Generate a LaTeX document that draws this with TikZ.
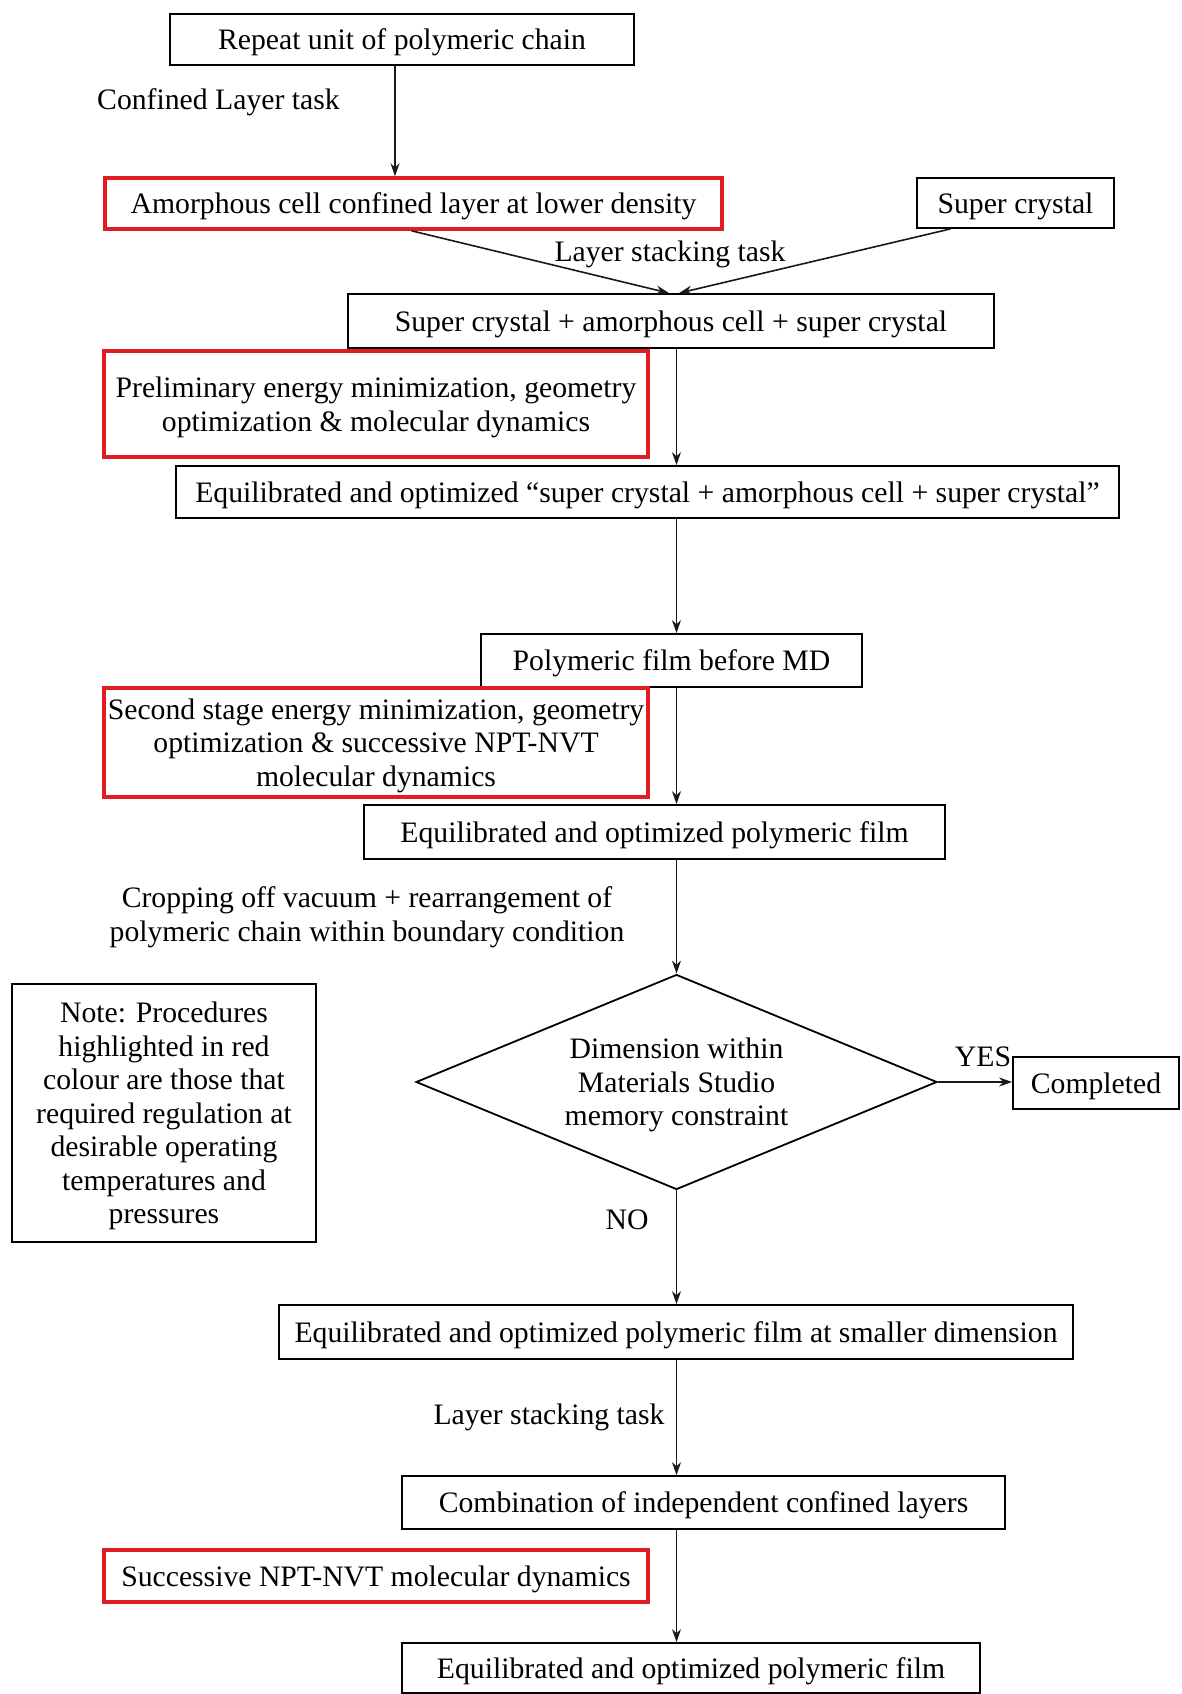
\documentclass[tikz,border=0pt]{standalone}
\usepackage{fontspec}
\setmainfont{Liberation Serif}
\usetikzlibrary{shapes.geometric,arrows.meta}
\definecolor{boxred}{RGB}{226,28,36}
\tikzset{
  every node/.style={font=\fontsize{29.7}{33.5}\selectfont, inner sep=0pt, text depth=0pt},
  bbox/.style={draw=black, line width=1.8pt, align=center},
  rbox/.style={draw=boxred, line width=3.6pt, align=center},
  lbl/.style={align=center},
  arr/.style={draw=black!90, line width=1.6pt, -{Stealth[length=13pt,width=9pt]}},
}
\begin{document}
\begin{tikzpicture}[x=1pt,y=-1pt]
\useasboundingbox (0,0) rectangle (1181,1694);
% boxes
\node[bbox, minimum width=464pt, minimum height=51pt] (rep) at (402,39.5) {Repeat unit of polymeric chain};
\node[rbox, minimum width=617pt, minimum height=51pt] (amor) at (413.5,203.5) {Amorphous cell confined layer at lower density};
\node[bbox, minimum width=197pt, minimum height=50pt] (sc) at (1015.5,203) {Super crystal};
\node[bbox, minimum width=646pt, minimum height=54pt] (scasc) at (671,321) {Super crystal + amorphous cell + super crystal};
\node[rbox, minimum width=544pt, minimum height=106pt] (prelim) at (376,404) {Preliminary energy minimization, geometry\\optimization \& molecular dynamics};
\node[bbox, minimum width=943pt, minimum height=52pt] (eqsc) at (647.5,492) {Equilibrated and optimized “super crystal + amorphous cell + super crystal”};
\node[bbox, minimum width=381pt, minimum height=53pt] (pfb) at (671.5,660.5) {Polymeric film before MD};
\node[rbox, minimum width=544pt, minimum height=109pt] (second) at (376,742.5) {Second stage energy minimization, geometry\\optimization \& successive NPT-NVT\\molecular dynamics};
\node[bbox, minimum width=581pt, minimum height=54pt] (eqpf) at (654.5,832) {Equilibrated and optimized polymeric film};
\node[diamond, draw=black, line width=1.8pt, align=center, minimum width=521pt, minimum height=215pt, shape aspect=2.42] (dec) at (676.5,1082) {Dimension within\\Materials Studio\\memory constraint};
\node[bbox, minimum width=166pt, minimum height=52pt] (compl) at (1096,1083) {Completed};
\node[bbox, minimum width=304pt, minimum height=258pt] (note) at (164,1113) {Note: Procedures\\highlighted in red\\colour are those that\\required regulation at\\desirable operating\\temperatures and\\pressures};
\node[bbox, minimum width=794pt, minimum height=54pt] (eqsm) at (676,1332) {Equilibrated and optimized polymeric film at smaller dimension};
\node[bbox, minimum width=603pt, minimum height=53pt] (comb) at (703.5,1502.5) {Combination of independent confined layers};
\node[rbox, minimum width=544pt, minimum height=52pt] (succ) at (376,1576) {Successive NPT-NVT molecular dynamics};
\node[bbox, minimum width=578pt, minimum height=50pt] (final) at (691,1668) {Equilibrated and optimized polymeric film};
% labels
\node[lbl, anchor=west] (l1) at (97,99) {Confined Layer task};
\node[lbl] (l2) at (670,251) {Layer stacking task};
\node[lbl] (l3) at (367,914) {Cropping off vacuum + rearrangement of\\polymeric chain within boundary condition};
\node[lbl] (lyes) at (983,1057) {YES};
\node[lbl] (lno) at (627,1220) {NO};
\node[lbl] (l4) at (549,1414) {Layer stacking task};
% connectors
\draw[arr] ([xshift=-7pt]rep.south) -- ([xshift=-7pt]rep.south |- amor.north);
\draw[arr] ([xshift=-2pt]amor.south) -- ([xshift=-2pt]scasc.north);
\draw[arr] ([xshift=-65pt]sc.south) -- ([xshift=8pt]scasc.north);
\draw[arr] (scasc.south -| dec.north) -- (eqsc.north -| dec.north);
\draw[arr] (eqsc.south -| dec.north) -- (pfb.north -| dec.north);
\draw[arr] (pfb.south -| dec.north) -- (eqpf.north -| dec.north);
\draw[arr] (eqpf.south -| dec.north) -- (dec.north);
\draw[arr] (dec.east) -- (dec.east -| compl.west);
\draw[arr] (dec.south) -- (eqsm.north -| dec.south);
\draw[arr] (eqsm.south -| dec.south) -- (comb.north -| dec.south);
\draw[arr] (comb.south -| dec.south) -- (final.north -| dec.south);
\end{tikzpicture}
\end{document}
